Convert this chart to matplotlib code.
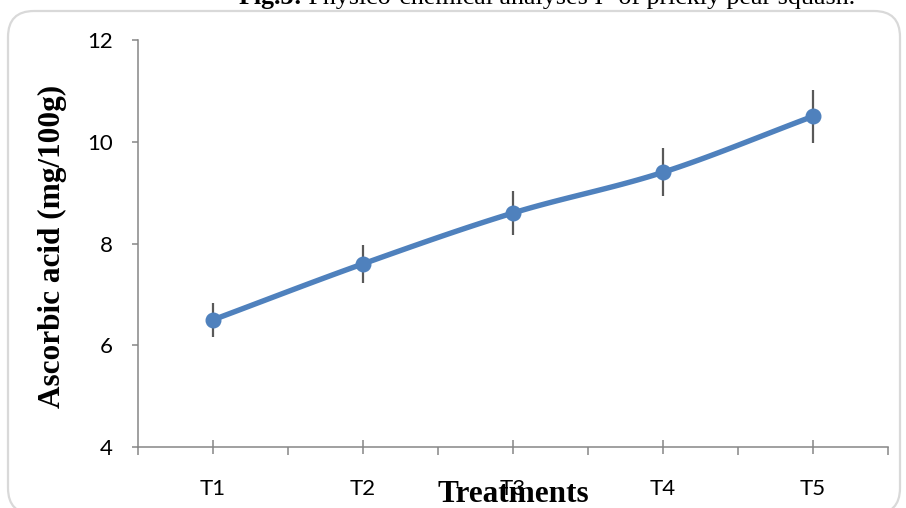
import numpy as np
import matplotlib
matplotlib.use("Agg")
import matplotlib.pyplot as plt
from matplotlib.patches import FancyBboxPatch

treatments = ["T1", "T2", "T3", "T4", "T5"]
ascorbic = [6.5, 7.6, 8.6, 9.4, 10.5]
errors = [0.33, 0.38, 0.43, 0.47, 0.52]
y_ticks = [4, 6, 8, 10, 12]

line_color = "#4F81BD"
axis_color = "#868686"
err_color = "#595959"


def smooth(xs, ys, n=30):
    # catmull-rom curve through the points, like excel's smoothed line
    xs = np.asarray(xs, float)
    ys = np.asarray(ys, float)
    px = np.concatenate([[2 * xs[0] - xs[1]], xs, [2 * xs[-1] - xs[-2]]])
    py = np.concatenate([[2 * ys[0] - ys[1]], ys, [2 * ys[-1] - ys[-2]]])
    out_x, out_y = [], []
    t = np.linspace(0, 1, n)
    for i in range(1, len(px) - 2):
        for p, out in ((px, out_x), (py, out_y)):
            p0, p1, p2, p3 = p[i - 1], p[i], p[i + 1], p[i + 2]
            out.extend(0.5 * (2 * p1 + (-p0 + p2) * t
                              + (2 * p0 - 5 * p1 + 4 * p2 - p3) * t ** 2
                              + (-p0 + 3 * p1 - 3 * p2 + p3) * t ** 3))
    return out_x, out_y


fig = plt.figure(figsize=(9.06, 5.08), dpi=100)
ax = fig.add_axes([138 / 906, 61 / 508, 750 / 906, 407 / 508])

x = np.arange(len(treatments))
sx, sy = smooth(x, ascorbic)
ax.errorbar(x, ascorbic, yerr=errors, fmt="none", ecolor=err_color,
            elinewidth=1.6, capsize=0, zorder=2)
ax.plot(sx, sy, color=line_color, lw=3.9, solid_capstyle="round", zorder=3)
ax.plot(x, ascorbic, "o", color=line_color, ms=10.5, zorder=4)

ax.set_xlim(-0.5, len(treatments) - 0.5)
ax.set_ylim(4, 12)
ax.set_yticks(y_ticks)
ax.set_xticks(x)
ax.set_xticklabels(treatments)
ax.set_xticks(np.arange(-0.5, len(treatments), 1.0), minor=True)

for s in ["top", "right"]:
    ax.spines[s].set_visible(False)
for s in ["left", "bottom"]:
    ax.spines[s].set_color(axis_color)
    ax.spines[s].set_linewidth(1.1)

ax.tick_params(axis="y", direction="out", length=4, width=1.1, color=axis_color,
               pad=14, labelsize=16, labelcolor="black")
ax.tick_params(axis="x", which="major", direction="inout", length=9.5, width=1.1,
               color=axis_color, pad=18, labelsize=16, labelcolor="black")
ax.tick_params(axis="x", which="minor", direction="out", length=5.5, width=1.1,
               color=axis_color)
for lab in ax.get_xticklabels() + ax.get_yticklabels():
    lab.set_family("Lato")

fig.text(52 / 906, 1 - 246.5 / 508, "Ascorbic acid (mg/100g)", rotation=90,
         ha="center", va="center", family="Liberation Serif", weight="bold",
         fontsize=22.5)
fig.text(513 / 906, 1 - 502 / 508, "Treatments", ha="center", va="baseline",
         family="Liberation Serif", weight="bold", fontsize=22.5)

# caption cut off at the top edge
rest = fig.text(0, 1 - 4 / 508, " Physico-chemical analyses I- of prickly pear squash.",
                ha="left", va="baseline", family="Liberation Serif", fontsize=18.7)
bold = fig.text(0, 1 - 4 / 508, "Fig.3:", ha="left", va="baseline",
                family="Liberation Serif", weight="bold", fontsize=18.7)
fig.canvas.draw()
r = fig.canvas.get_renderer()
wb = bold.get_window_extent(r).width
wr = rest.get_window_extent(r).width
x0 = 547 - (wb + wr) / 2
bold.set_x(x0 / 906)
rest.set_x((x0 + wb) / 906)

frame = FancyBboxPatch((8, -6), 892, 503, boxstyle="round,pad=0,rounding_size=26",
                       transform=None, fill=False, edgecolor="#D9D9D9", lw=1.6)
fig.patches.append(frame)

fig.savefig("out.png", dpi=100)
